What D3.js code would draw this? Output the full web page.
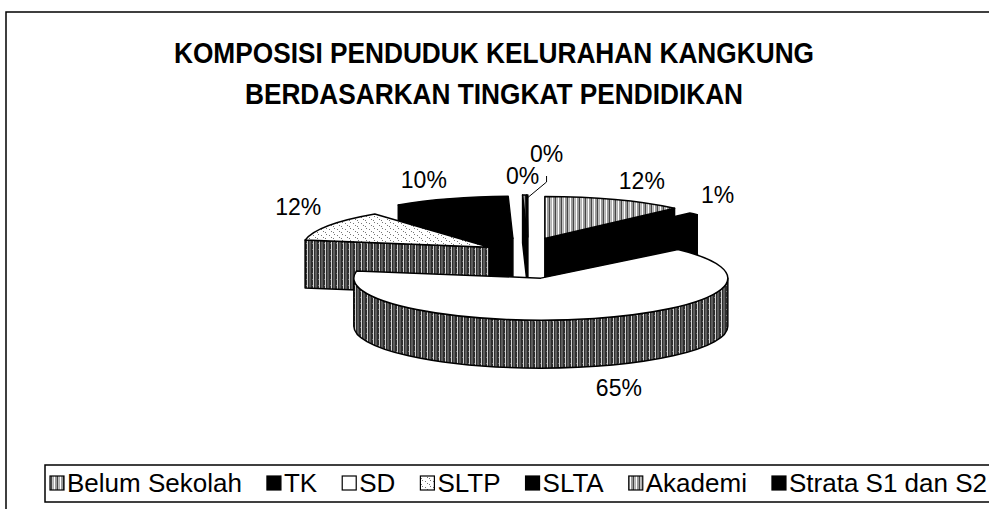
<!DOCTYPE html>
<html>
<head>
<meta charset="utf-8">
<script src="https://cdnjs.cloudflare.com/ajax/libs/d3/7.8.5/d3.min.js"></script>
<style>
  html, body { margin: 0; padding: 0; background: #fff; }
  svg { display: block; font-family: Arial, "Liberation Sans", sans-serif; }
</style>
</head>
<body>
<script>
// data
const categories = ["Belum Sekolah", "TK", "SD", "SLTP", "SLTA", "Akademi", "Strata S1 dan S2"];
const shares = [12.2, 0.9, 64.6, 11.8, 10.1, 0.3, 0.1];
const titleLines = ["KOMPOSISI PENDUDUK KELURAHAN KANGKUNG", "BERDASARKAN TINGKAT PENDIDIKAN"];

// look of each slice (top face, side faces)
const topFills = ["url(#pGrey)", "#000", "#fff", "url(#pDots)", "#000", "url(#pGrey)", "#000"];
const sideFills = ["#000", "#000", "url(#pDark)", "url(#pDark)", "#000", "#000", "#000"];
const legendFills = ["url(#pGrey)", "#000", "#fff", "url(#pDots)", "#000", "url(#pGrey)", "#000"];

const width = 989, height = 509;
const svg = d3.select("body").append("svg")
    .attr("width", width)
    .attr("height", height);

// scanned-looking fills
const defs = svg.append("defs");
const pDark = defs.append("pattern").attr("id", "pDark")
    .attr("patternUnits", "userSpaceOnUse").attr("width", 6).attr("height", 6);
pDark.append("rect").attr("width", 6).attr("height", 6).attr("fill", "#2e2e2e");
pDark.append("rect").attr("x", 1).attr("width", 1).attr("height", 6).attr("fill", "#d4d4d4");
pDark.append("rect").attr("x", 3.5).attr("width", 1).attr("height", 6).attr("fill", "#8c8c8c");
pDark.append("rect").attr("x", 0).attr("y", 3).attr("width", 1).attr("height", 1).attr("fill", "#777");

const pGrey = defs.append("pattern").attr("id", "pGrey")
    .attr("patternUnits", "userSpaceOnUse").attr("width", 6).attr("height", 6);
pGrey.append("rect").attr("width", 6).attr("height", 6).attr("fill", "#9a9a9a");
pGrey.append("rect").attr("x", 0).attr("width", 1).attr("height", 6).attr("fill", "#fff");
pGrey.append("rect").attr("x", 3).attr("width", 1).attr("height", 6).attr("fill", "#444");
pGrey.append("rect").attr("x", 4.5).attr("width", 0.8).attr("height", 6).attr("fill", "#e6e6e6");

const pDots = defs.append("pattern").attr("id", "pDots")
    .attr("patternUnits", "userSpaceOnUse").attr("width", 8).attr("height", 6);
pDots.append("rect").attr("width", 8).attr("height", 6).attr("fill", "#fff");
[[1, 1], [5, 4], [3, 3], [6, 0]].forEach(p => {
    pDots.append("rect").attr("x", p[0]).attr("y", p[1]).attr("width", 1).attr("height", 1).attr("fill", "#777");
});

// outer frame
svg.append("rect")
    .attr("x", 6).attr("y", 12)
    .attr("width", 1000).attr("height", 520)
    .attr("fill", "none").attr("stroke", "#000").attr("stroke-width", 1.5);

// title, squeezed a little like the narrow bold face of the original
const titleG = svg.append("g")
    .attr("font-weight", "bold")
    .attr("font-size", 29)
    .attr("text-anchor", "middle");
const titleText = titleG.selectAll("text")
    .data(titleLines)
    .enter().append("text")
    .attr("x", 494)
    .attr("y", (d, i) => 63 + i * 41)
    .text(d => d);
const squeeze = 640 / titleText.nodes()[0].getComputedTextLength();
titleText.each(function () {
    const w = this.getComputedTextLength();
    d3.select(this).attr("textLength", w * squeeze).attr("lengthAdjust", "spacingAndGlyphs");
});

// 3d pie geometry
const cx = 528, cy = 258;      // pie centre
const rx = 187, ry = 42;       // ellipse radii of the top face
const depth = 48;              // thickness
const explodeX = 45, explodeY = 21;

const pie = d3.pie().sort(null).value(d => d);
const arcs = pie(shares).map((a, i) => {
    const mid = (a.startAngle + a.endAngle) / 2;
    return {
        i, a0: a.startAngle, a1: a.endAngle, mid,
        x: cx + explodeX * Math.sin(mid),
        y: cy - explodeY * Math.cos(mid)
    };
});

const rim = (s, t, z = 0) => [s.x + rx * Math.sin(t), s.y - ry * Math.cos(t) + z];

function topPath(s) {
    const p0 = rim(s, s.a0), p1 = rim(s, s.a1);
    const large = (s.a1 - s.a0) > Math.PI ? 1 : 0;
    return `M${s.x},${s.y}L${p0}A${rx},${ry} 0 ${large} 1 ${p1}Z`;
}

function wallPath(s) {
    const t0 = Math.max(s.a0, Math.PI / 2), t1 = Math.min(s.a1, 3 * Math.PI / 2);
    if (t1 <= t0) return null;
    const p0 = rim(s, t0), p1 = rim(s, t1), q1 = rim(s, t1, depth), q0 = rim(s, t0, depth);
    return `M${p0}A${rx},${ry} 0 0 1 ${p1}L${q1}A${rx},${ry} 0 0 0 ${q0}Z`;
}

function facePath(s, t) {
    const p = rim(s, t), q = rim(s, t, depth);
    return `M${s.x},${s.y}L${p}L${q}L${s.x},${s.y + depth}Z`;
}

const pieG = svg.append("g")
    .attr("stroke", "#000").attr("stroke-width", 1.5).attr("stroke-linejoin", "round");

arcs.slice().sort((a, b) => a.y - b.y).forEach(s => {
    const g = pieG.append("g");
    if (Math.sin(s.a0) < -1e-6) g.append("path").attr("d", facePath(s, s.a0)).attr("fill", sideFills[s.i]);
    if (Math.sin(s.a1) > 1e-6) g.append("path").attr("d", facePath(s, s.a1)).attr("fill", sideFills[s.i]);
    const w = wallPath(s);
    if (w) g.append("path").attr("d", w).attr("fill", sideFills[s.i]);
    g.append("path").attr("d", topPath(s)).attr("fill", topFills[s.i]);
});

// percentage labels, placed just outside each slice's rim
const total = d3.sum(shares);
const fmt = v => Math.round(v / total * 100) + "%";
const labelG = svg.append("g").attr("font-size", 23);
const placed = [];
arcs.forEach(s => {
    const t = labelG.append("text").attr("text-anchor", "middle").attr("dy", "0.35em").text(fmt(shares[s.i]));
    const bw = t.node().getComputedTextLength(), bh = 20;
    const lower = Math.cos(s.mid) < 0;
    const p = rim(s, s.mid, lower ? depth : 0);
    let dx = rx * Math.sin(s.mid), dy = -ry * Math.cos(s.mid);
    const n = Math.hypot(dx, dy); dx /= n; dy /= n;
    let lx = p[0] + dx * (bw / 2 + 8);
    let ly = p[1] + Math.sign(dy) * (bh / 2 + (lower ? 12 : 9));
    let moved = false;
    const hit = () => placed.some(b => Math.abs(b.x - lx) < (b.w + bw) / 2 && Math.abs(b.y - ly) < bh);
    if (hit()) { lx += bw / 2 + 3; ly -= bh + 2; moved = true; }
    placed.push({ x: lx, y: ly, w: bw });
    t.attr("x", lx).attr("y", ly);
    if (moved) {
        const tip = rim(s, s.mid);
        labelG.append("path")
            .attr("d", `M${lx},${ly + bh + 2}L${lx},${ly + bh + 8}L${tip[0]},${tip[1] + 3}`)
            .attr("fill", "none").attr("stroke", "#000").attr("stroke-width", 1);
    }
});

// legend
const legendLeft = 50, legendRight = 987, legendBase = 492, box = 14;
svg.append("rect")
    .attr("x", 45).attr("y", 465).attr("width", 960).attr("height", 37)
    .attr("fill", "#fff").attr("stroke", "#000").attr("stroke-width", 1.5);
const legend = svg.append("g").attr("font-size", 26);
const items = categories.map(c => {
    const t = legend.append("text").attr("y", legendBase).text(c);
    return { t, w: t.node().getComputedTextLength() };
});
const used = d3.sum(items, d => d.w + box + 3);
const gap = (legendRight - legendLeft - used) / (categories.length - 1);
let lx = legendLeft;
items.forEach((it, i) => {
    legend.append("rect")
        .attr("x", lx).attr("y", legendBase - 16)
        .attr("width", box).attr("height", box)
        .attr("fill", legendFills[i]).attr("stroke", "#000").attr("stroke-width", 1.2);
    it.t.attr("x", lx + box + 3);
    lx += box + 3 + it.w + gap;
});
</script>
</body>
</html>
